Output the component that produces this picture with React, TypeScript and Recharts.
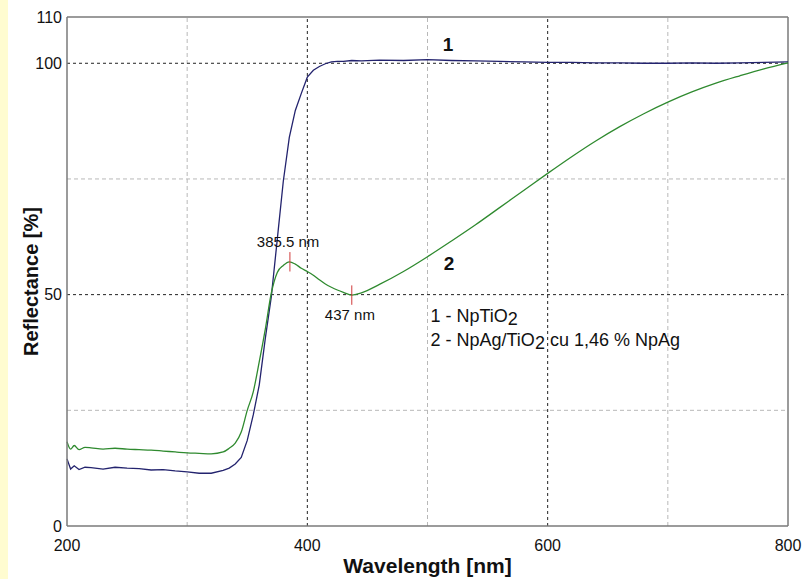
import { LineChart, Line, XAxis, YAxis, ReferenceLine, ReferenceDot } from "recharts";

// wavelength in nm
const wavelengths = [
  200, 203, 206, 210, 215, 220, 230, 240, 250, 260, 270, 280, 290, 300, 310,
  320, 330, 335, 340, 345, 350, 355, 360, 365, 370, 375, 380, 385, 390, 395,
  400, 405, 410, 415, 420, 425, 430, 437, 445, 460, 480, 500, 520, 540, 560,
  580, 600, 620, 640, 660, 680, 700, 720, 740, 760, 780, 800,
];

// 1 - NpTiO2
const npTiO2 = [
  14.5, 12.3, 13.0, 12.2, 12.7, 12.6, 12.3, 12.7, 12.5, 12.4, 12.1, 12.2, 11.9, 11.7, 11.4,
  11.4, 12.0, 12.5, 13.4, 14.8, 18.5, 24.0, 30.5, 40.5, 49.5, 62.0, 74.5, 84.0, 89.8, 93.5,
  97.0, 98.5, 99.3, 99.9, 100.3, 100.4, 100.4, 100.6, 100.5, 100.7, 100.6, 100.8, 100.6, 100.5, 100.4,
  100.3, 100.2, 100.2, 100.1, 100.1, 100.0, 100.0, 100.1, 100.0, 100.1, 100.2, 100.3,
];

// 2 - NpAg/TiO2 cu 1,46 % NpAg
const npAgTiO2 = [
  18.2, 16.6, 17.4, 16.5, 17.0, 16.9, 16.6, 16.8, 16.6, 16.5, 16.4, 16.2, 16.0, 15.8, 15.7,
  15.6, 16.0, 16.8, 17.9, 20.3, 25.0, 29.0, 35.5, 42.5, 50.3, 54.8, 56.3, 57.1, 56.6, 55.7,
  55.0, 54.2, 53.2, 52.3, 51.6, 51.0, 50.5, 49.9, 50.4, 52.2, 55.0, 58.2, 61.6, 65.1, 68.8,
  72.5, 76.2, 79.8, 83.2, 86.3, 89.1, 91.6, 93.8, 95.7, 97.3, 98.8, 100.1,
];

const xTicks = [200, 300, 400, 500, 600, 700, 800];
const xLabeled = [200, 400, 600, 800];
const yTicks = [0, 50, 100, 110];
const majorX = [400, 600];
const minorX = [300, 500, 700];
const majorY = [50, 100];
const minorY = [25, 75];

// marked extremes on curve 2
const markWl = [385.5, 437];
const markVal = [57.1, 49.9];
const markText = ["385.5 nm", "437 nm"];

const data = wavelengths.map((wl, i) => ({
  wl,
  s1: npTiO2[i],
  s2: npAgTiO2[i],
}));

const FONT = "'Liberation Sans', Arial, sans-serif";
const BLUE = "#23236e";
const GREEN = "#2f8a2f";

const XTitle = ({ viewBox }: any) => (
  <text
    x={viewBox.x + viewBox.width / 2}
    y={viewBox.y + 47}
    textAnchor="middle"
    fontFamily={FONT}
    fontWeight="bold"
    fontSize={21}
    fill="#111"
  >
    Wavelength [nm]
  </text>
);

const YTitle = ({ viewBox }: any) => {
  const cx = viewBox.x + 4;
  const cy = viewBox.y + viewBox.height / 2 + 10;
  return (
    <text
      x={cx}
      y={cy}
      textAnchor="middle"
      dominantBaseline="central"
      transform={`rotate(-90, ${cx}, ${cy})`}
      fontFamily={FONT}
      fontWeight="bold"
      fontSize={20}
      fill="#111"
    >
      Reflectance [%]
    </text>
  );
};

const Legend2 = ({ viewBox }: any) => (
  <text x={viewBox.x} y={viewBox.y} fontFamily={FONT} fontSize={18} fill="#111">
    <tspan x={viewBox.x} dy={0}>1 - NpTiO</tspan>
    <tspan dy={3}>2</tspan>
    <tspan x={viewBox.x} dy={21}>2 - NpAg/TiO</tspan>
    <tspan dy={3}>2</tspan>
    <tspan dy={-3}> cu 1,46 % NpAg</tspan>
  </text>
);

export default function App() {
  return (
    <div
      style={{
        position: "fixed",
        left: 0,
        top: 0,
        width: 803,
        height: 579,
        background: "#ffffff",
      }}
    >
      <div
        style={{
          position: "absolute",
          left: 0,
          top: 0,
          width: 8,
          height: 579,
          background: "#fffcd0",
        }}
      />
      <LineChart
        width={803}
        height={579}
        data={data}
        margin={{ top: 17, right: 15, bottom: 13, left: 27 }}
      >
        {minorX.map((v) => (
          <ReferenceLine key={`mx${v}`} x={v} stroke="#b8b8b8" strokeDasharray="4 3" />
        ))}
        {minorY.map((v) => (
          <ReferenceLine key={`my${v}`} y={v} stroke="#b8b8b8" strokeDasharray="4 3" />
        ))}
        {majorX.map((v) => (
          <ReferenceLine key={`Mx${v}`} x={v} stroke="#222" strokeDasharray="3 3" />
        ))}
        {majorY.map((v) => (
          <ReferenceLine key={`My${v}`} y={v} stroke="#222" strokeDasharray="3 3" />
        ))}
        <ReferenceLine y={110} stroke="#7a7a7a" strokeWidth={1.5} />
        <ReferenceLine x={800} stroke="#7a7a7a" strokeWidth={1.5} />
        <XAxis
          dataKey="wl"
          type="number"
          domain={[200, 800]}
          ticks={xTicks}
          tickFormatter={(v: number) => (xLabeled.includes(v) ? String(v) : "")}
          interval={0}
          height={40}
          stroke="#7a7a7a"
          strokeWidth={1.5}
          tickLine={false}
          tickSize={6}
          tickMargin={8}
          tick={{ fill: "#111", fontSize: 16, fontFamily: FONT }}
          label={<XTitle />}
        />
        <YAxis
          type="number"
          domain={[0, 110]}
          ticks={yTicks}
          interval={0}
          width={40}
          stroke="#7a7a7a"
          strokeWidth={1.5}
          tickLine={false}
          tickSize={3}
          tickMargin={2}
          tick={{ fill: "#111", fontSize: 16, fontFamily: FONT }}
          label={<YTitle />}
        />
        <Line
          type="linear"
          dataKey="s1"
          stroke={BLUE}
          strokeWidth={1.3}
          dot={false}
          isAnimationActive={false}
        />
        <Line
          type="monotone"
          dataKey="s2"
          stroke={GREEN}
          strokeWidth={1.3}
          dot={false}
          isAnimationActive={false}
        />
        {markWl.map((wl, i) => (
          <ReferenceLine
            key={`mk${i}`}
            segment={[
              { x: wl, y: markVal[i] - 2.1 },
              { x: wl, y: markVal[i] + 2.1 },
            ]}
            stroke="#d03a3a"
            strokeWidth={1}
          />
        ))}
        <ReferenceDot
          x={384}
          y={60.4}
          r={0}
          stroke="none"
          label={{ value: markText[0], position: "top", offset: 0, fontSize: 15, fontFamily: FONT, fill: "#111" }}
        />
        <ReferenceDot
          x={435.4}
          y={44.5}
          r={0}
          stroke="none"
          label={{ value: markText[1], position: "top", offset: 0, fontSize: 15, fontFamily: FONT, fill: "#111" }}
        />
        <ReferenceDot
          x={517}
          y={102.7}
          r={0}
          stroke="none"
          label={{ value: "1", position: "top", offset: 0, fontSize: 19, fontWeight: "bold", fontFamily: FONT, fill: "#111" }}
        />
        <ReferenceDot
          x={518}
          y={55.3}
          r={0}
          stroke="none"
          label={{ value: "2", position: "top", offset: 0, fontSize: 19, fontWeight: "bold", fontFamily: FONT, fill: "#111" }}
        />
        <ReferenceDot x={502.5} y={44.1} r={0} stroke="none" label={<Legend2 />} />
      </LineChart>
    </div>
  );
}
